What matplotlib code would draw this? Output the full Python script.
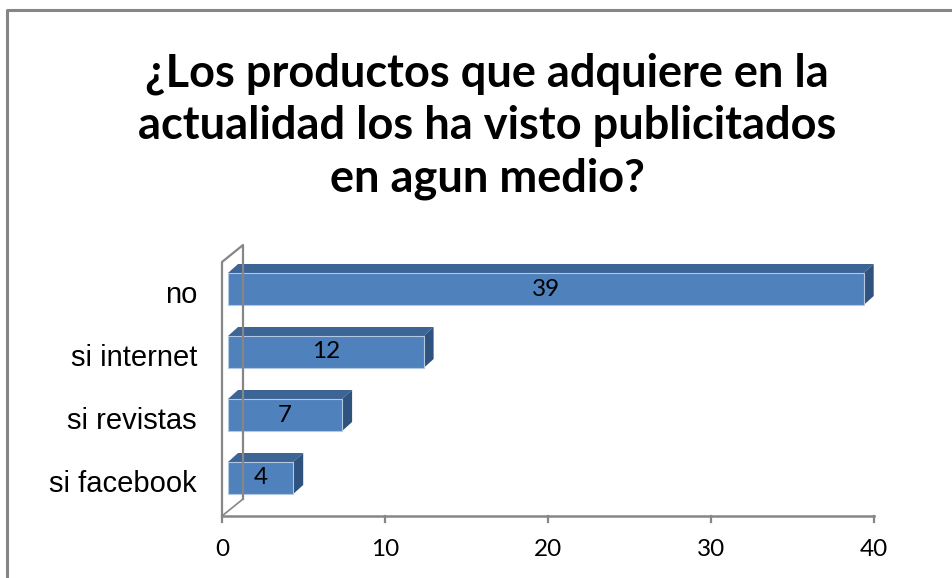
import matplotlib.pyplot as plt
from matplotlib.patches import Polygon

plt.rcParams["font.family"] = "Liberation Sans"

# Data
categories = ["no", "si internet", "si revistas", "si facebook"]
values = [39, 12, 7, 4]
ticks = [0, 10, 20, 30, 40]

# Colours
C_FRONT = "#4F81BD"
C_TOP = "#3C6494"
C_SIDE = "#2F527F"
C_EDGE = "#B4C8E2"
C_GRID = "#868686"

W, H = 952, 578
PX = 16.3          # pixels per unit on the value axis
X0 = 222           # pixel position of value 0

fig = plt.figure(figsize=(W / 100, H / 100), dpi=100)
ax = fig.add_axes([0, 0, 1, 1])
ax.set_xlim(-X0 / PX, (W - X0) / PX)
ax.set_ylim(H, 0)
ax.axis("off")

def u(px):
    return px / PX

# outer frame (left + top)
ax.plot([u(6.5 - X0), u(6.5 - X0), u(W + 5 - X0)], [H + 5, 9.5, 9.5],
        color=C_GRID, lw=2.2, solid_capstyle="butt")

# title
ax.text(u(487 - X0), 126, "¿Los productos que adquiere en la\nactualidad los ha visto publicitados\nen agun medio?",
        ha="center", va="center", fontsize=32.5, fontweight="bold",
        family="Lato", linespacing=1.3, color="black")

# 3D wall / floor outline
DX, DY = 21, -17
AX_Y = 516
TOP_Y = 262
ax.plot([0, 0, u(DX), u(DX)], [AX_Y, TOP_Y, TOP_Y + DY, AX_Y + DY], color=C_GRID, lw=1.6)
ax.plot([0, u(DX)], [AX_Y, AX_Y + DY], color=C_GRID, lw=1.2)

# value axis
ax.plot([0, ticks[-1]], [AX_Y, AX_Y], color=C_GRID, lw=1.8)
for t in ticks:
    ax.plot([t, t], [AX_Y, AX_Y + 6], color=C_GRID, lw=1.6)
    ax.text(t, 549, str(t), ha="center", va="center", fontsize=17.5, family="Lato")

# bars
BOFF = u(6)        # bar front face sits slightly behind front plane
BDX, BDY = u(10), -9
BH = 32
for i, (cat, v) in enumerate(zip(categories, values)):
    cy = 289 + 63 * i
    top, bot = cy - BH / 2, cy + BH / 2
    left, right = BOFF, BOFF + v
    ax.add_patch(Polygon([(left, top), (right, top), (right + BDX, top + BDY), (left + BDX, top + BDY)],
                         closed=True, facecolor=C_TOP, edgecolor="none"))
    ax.add_patch(Polygon([(right, top), (right + BDX, top + BDY), (right + BDX, bot + BDY), (right, bot)],
                         closed=True, facecolor=C_SIDE, edgecolor="none"))
    ax.add_patch(Polygon([(left, top), (right, top), (right, bot), (left, bot)],
                         closed=True, facecolor=C_FRONT, edgecolor=C_EDGE, lw=0.8))
    ax.text((left + right) / 2, cy, str(v), ha="center", va="center",
            fontsize=17.5, family="Lato", color="black")
    ax.text(u(197 - X0), cy + 6, cat, ha="right", va="center", fontsize=21, color="black")

fig.savefig("out.png", dpi=100, facecolor="white")
